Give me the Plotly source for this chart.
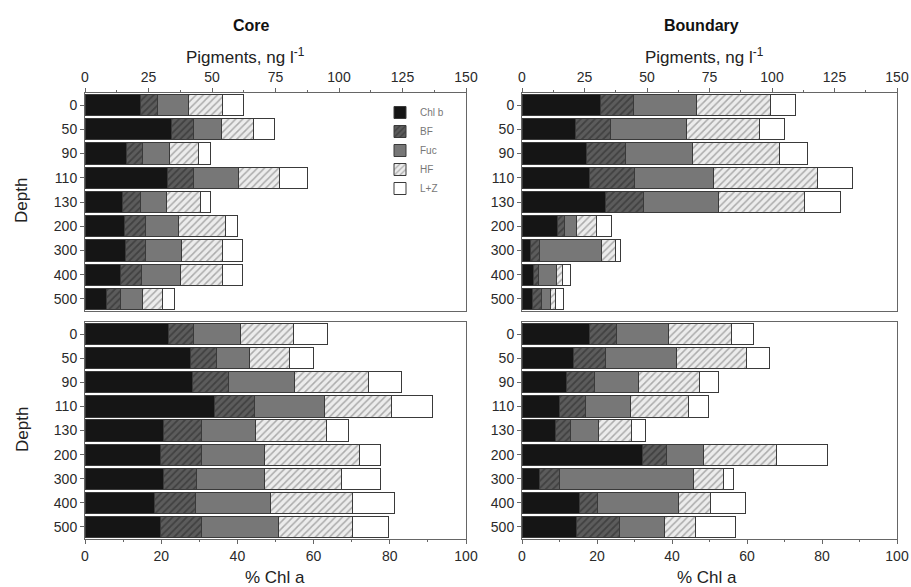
import plotly.graph_objects as go
from plotly.subplots import make_subplots

depths = ["0", "50", "90", "110", "130", "200", "300", "400", "500"]
pigments = ["Chl b", "BF", "Fuc", "HF", "L+Z"]

# Core, pigments ng l-1 (segment values per depth)
core_ng = {
    "Chl b": [21.7, 34.2, 16.4, 32.6, 14.9, 15.5, 16.0, 13.8, 8.6],
    "BF":    [6.9, 8.6, 6.2, 10.2, 6.8, 8.2, 8.0, 8.3, 5.2],
    "Fuc":   [12.2, 10.9, 10.7, 17.5, 10.3, 13.3, 13.8, 15.4, 8.7],
    "HF":    [13.4, 12.5, 11.2, 16.4, 13.4, 18.5, 16.2, 16.5, 8.2],
    "L+Z":   [8.3, 8.5, 5.0, 10.8, 3.9, 4.4, 8.1, 8.1, 4.4],
}
# Boundary, pigments ng l-1
bound_ng = {
    "Chl b": [31.5, 21.4, 25.7, 26.8, 33.2, 14.3, 3.3, 4.4, 4.0],
    "BF":    [13.1, 13.8, 15.8, 18.0, 15.3, 2.6, 3.8, 2.3, 3.8],
    "Fuc":   [25.3, 30.5, 26.5, 31.9, 29.9, 4.7, 24.5, 7.0, 3.6],
    "HF":    [29.6, 29.3, 34.8, 41.5, 34.6, 8.3, 5.9, 2.6, 2.0],
    "L+Z":   [9.7, 9.8, 11.3, 14.1, 14.2, 5.8, 1.9, 3.1, 3.1],
}
# Core, % Chl a
core_pct = {
    "Chl b": [21.9, 27.6, 28.3, 34.0, 20.6, 19.8, 20.7, 18.2, 19.7],
    "BF":    [6.7, 6.9, 9.4, 10.6, 9.9, 10.7, 8.5, 10.7, 11.0],
    "Fuc":   [12.3, 8.7, 17.2, 18.2, 14.3, 16.7, 17.8, 19.8, 20.2],
    "HF":    [13.7, 10.4, 19.5, 17.6, 18.6, 24.8, 20.4, 21.5, 19.4],
    "L+Z":   [9.1, 6.5, 8.8, 10.7, 5.7, 5.6, 10.2, 11.0, 9.3],
}
# Boundary, % Chl a
bound_pct = {
    "Chl b": [18.1, 13.7, 11.9, 10.1, 8.9, 32.1, 4.7, 15.3, 14.6],
    "BF":    [7.2, 8.6, 7.4, 6.7, 4.0, 6.3, 5.4, 4.9, 11.3],
    "Fuc":   [13.8, 19.0, 11.8, 12.0, 7.6, 9.9, 35.7, 21.4, 12.1],
    "HF":    [16.7, 18.5, 16.2, 15.7, 8.8, 19.6, 7.8, 8.7, 8.3],
    "L+Z":   [5.8, 6.3, 5.2, 5.1, 3.7, 13.6, 2.9, 9.3, 10.5],
}

styles = {
    "Chl b": dict(color="#151515", pattern=None),
    "BF":    dict(color="#5c5c5c", pattern=dict(shape="/", bgcolor="#5c5c5c", fgcolor="#262626", size=5, solidity=0.35)),
    "Fuc":   dict(color="#777777", pattern=None),
    "HF":    dict(color="#e4e4e4", pattern=dict(shape="/", bgcolor="#ececec", fgcolor="#6a6a6a", size=5, solidity=0.3)),
    "L+Z":   dict(color="#ffffff", pattern=None),
}

fig = make_subplots(rows=2, cols=2)

panels = [(core_ng, 1, 1, True), (bound_ng, 1, 2, False),
          (core_pct, 2, 1, False), (bound_pct, 2, 2, False)]
for data, r, c, show in panels:
    for p in pigments:
        st = styles[p]
        marker = dict(color=st["color"], line=dict(color="#3a3a3a", width=1))
        if st["pattern"] is not None:
            marker["pattern"] = st["pattern"]
        fig.add_trace(go.Bar(x=data[p], y=depths, orientation="h", name=p,
                             marker=marker, showlegend=show, legendgroup=p),
                      row=r, col=c)

FW, FH = 911, 587
def px(x): return x / FW
def py(y): return 1 - y / FH

font_fam = "Liberation Sans, Arial, sans-serif"
tick_font = dict(family=font_fam, size=14, color="#2a2a2a")
axis_common = dict(showline=True, linecolor="#666", linewidth=1, mirror=True,
                   showgrid=False, zeroline=False, tickfont=tick_font, automargin=False,
                   ticks="outside", ticklen=4, tickcolor="#666")

xdom_l = [px(85), px(466)]
xdom_r = [px(522), px(897)]
ydom_t = [py(311), py(93)]
ydom_b = [py(539), py(322)]

fig.update_layout(
    width=FW, height=FH, margin=dict(l=0, r=0, t=0, b=0, autoexpand=False),
    paper_bgcolor="white", plot_bgcolor="white",
    barmode="stack", bargap=0.12,
    font=dict(family=font_fam, color="#222"),
    legend=dict(x=px(380), y=py(98), xanchor="left", yanchor="top",
                traceorder="normal", font=dict(size=10, color="#777"),
                bgcolor="rgba(0,0,0,0)", itemwidth=30, tracegroupgap=0),
    xaxis=dict(domain=xdom_l, anchor="y", side="top", range=[0, 150], dtick=25,
               minor=dict(dtick=12.5, ticks="outside", ticklen=2, tickcolor="#666"), **axis_common),
    xaxis2=dict(domain=xdom_r, anchor="y2", side="top", range=[0, 150], dtick=25,
                minor=dict(dtick=12.5, ticks="outside", ticklen=2, tickcolor="#666"), **axis_common),
    xaxis3=dict(domain=xdom_l, anchor="y3", range=[0, 100], dtick=20,
                minor=dict(dtick=10, ticks="outside", ticklen=2, tickcolor="#666"), **axis_common),
    xaxis4=dict(domain=xdom_r, anchor="y4", range=[0, 100], dtick=20,
                minor=dict(dtick=10, ticks="outside", ticklen=2, tickcolor="#666"), **axis_common),
    yaxis=dict(domain=ydom_t, anchor="x", autorange="reversed", **axis_common),
    yaxis2=dict(domain=ydom_t, anchor="x2", autorange="reversed", **axis_common),
    yaxis3=dict(domain=ydom_b, anchor="x3", autorange="reversed", **axis_common),
    yaxis4=dict(domain=ydom_b, anchor="x4", autorange="reversed", **axis_common),
)

ann = []
ann.append(dict(text="<b>Core</b>", x=px(251), y=py(25), showarrow=False,
                font=dict(size=16, color="#111")))
ann.append(dict(text="<b>Boundary</b>", x=px(701), y=py(25), showarrow=False,
                font=dict(size=16, color="#111")))
for cx in (245, 704):
    ann.append(dict(text="Pigments, ng l<sup>-1</sup>", x=px(cx), y=py(56), showarrow=False,
                    font=dict(size=17, color="#222")))
for cx in (275, 707):
    ann.append(dict(text="% Chl a", x=px(cx), y=py(577), showarrow=False,
                    font=dict(size=17, color="#222")))
for cy in (201, 430):
    ann.append(dict(text="Depth", x=px(22), y=py(cy), showarrow=False, textangle=-90,
                    font=dict(size=17, color="#222")))
for a in ann:
    a.update(xref="paper", yref="paper", xanchor="center", yanchor="middle")
fig.update_layout(annotations=ann)

fig.write_html("out.html", config={"displayModeBar": False},
               post_script="document.body.style.margin='0px';")
